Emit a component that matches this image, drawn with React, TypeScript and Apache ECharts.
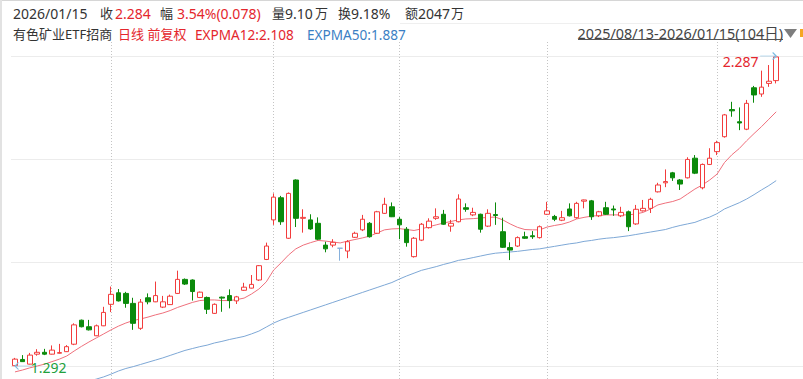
import React, { useEffect, useRef } from 'react';
import * as echarts from 'echarts';

const dates = [
  '2025-08-13','2025-08-14','2025-08-15','2025-08-18','2025-08-19','2025-08-20','2025-08-21','2025-08-22','2025-08-25','2025-08-26','2025-08-27','2025-08-28','2025-08-29',
  '2025-09-01','2025-09-02','2025-09-03','2025-09-04','2025-09-05','2025-09-08','2025-09-09','2025-09-10','2025-09-11','2025-09-12','2025-09-15','2025-09-16','2025-09-17','2025-09-18','2025-09-19','2025-09-22','2025-09-23','2025-09-24','2025-09-25','2025-09-26','2025-09-29','2025-09-30',
  '2025-10-09','2025-10-10','2025-10-13','2025-10-14','2025-10-15','2025-10-16','2025-10-17','2025-10-20','2025-10-21','2025-10-22','2025-10-23','2025-10-24','2025-10-27','2025-10-28','2025-10-29','2025-10-30','2025-10-31',
  '2025-11-03','2025-11-04','2025-11-05','2025-11-06','2025-11-07','2025-11-10','2025-11-11','2025-11-12','2025-11-13','2025-11-14','2025-11-17','2025-11-18','2025-11-19','2025-11-20','2025-11-21','2025-11-24','2025-11-25','2025-11-26','2025-11-27','2025-11-28',
  '2025-12-01','2025-12-02','2025-12-03','2025-12-04','2025-12-05','2025-12-08','2025-12-09','2025-12-10','2025-12-11','2025-12-12','2025-12-15','2025-12-16','2025-12-17','2025-12-18','2025-12-19','2025-12-22','2025-12-23','2025-12-24','2025-12-25','2025-12-26','2025-12-29','2025-12-30','2025-12-31',
  '2026-01-05','2026-01-06','2026-01-07','2026-01-08','2026-01-09','2026-01-12','2026-01-13','2026-01-14','2026-01-15',
];

const opens = [
  1.293,1.313,1.298,1.330,1.336,1.330,1.333,1.338,1.362,1.439,
  1.418,1.389,1.421,1.490,1.527,1.525,1.493,1.413,1.511,1.498,
  1.481,1.489,1.525,1.570,1.568,1.512,1.512,1.461,1.513,1.518,
  1.501,1.535,1.542,1.568,1.634,1.761,1.832,1.702,1.889,1.766,
  1.761,1.750,1.680,1.680,1.670,1.661,1.705,1.729,1.750,1.718,
  1.782,1.803,1.763,1.731,1.643,1.696,1.736,1.766,1.779,1.741,
  1.755,1.800,1.777,1.779,1.741,1.778,1.723,1.672,1.677,1.707,
  1.710,1.704,1.779,1.772,1.760,1.796,1.768,1.821,1.822,1.774,
  1.800,1.796,1.774,1.787,1.748,1.790,1.798,1.851,1.880,1.912,
  1.889,1.896,1.959,1.864,1.939,1.980,2.028,2.115,2.076,2.052,
  2.185,2.165,2.199,2.208,
];

const closes = [
  1.314,1.306,1.327,1.336,1.330,1.343,1.335,1.354,1.424,1.418,
  1.408,1.421,1.464,1.522,1.501,1.493,1.429,1.497,1.498,1.518,
  1.498,1.516,1.570,1.555,1.531,1.529,1.474,1.490,1.510,1.502,
  1.514,1.545,1.554,1.614,1.677,1.834,1.755,1.846,1.766,1.769,
  1.732,1.699,1.668,1.689,1.670,1.691,1.718,1.763,1.707,1.787,
  1.811,1.771,1.745,1.688,1.702,1.747,1.757,1.771,1.747,1.750,
  1.828,1.795,1.785,1.731,1.782,1.775,1.673,1.664,1.704,1.702,
  1.707,1.739,1.790,1.763,1.768,1.774,1.814,1.825,1.771,1.787,
  1.779,1.793,1.785,1.739,1.795,1.798,1.827,1.873,1.884,1.896,
  1.876,1.955,1.911,1.939,1.959,2.009,2.098,2.111,2.072,2.135,
  2.162,2.187,2.206,2.284,
];

const lows = [
  1.292,1.305,1.297,1.325,1.327,1.329,1.332,1.337,1.359,1.416,
  1.406,1.388,1.420,1.465,1.499,1.479,1.408,1.408,1.490,1.497,
  1.478,1.488,1.523,1.552,1.502,1.510,1.459,1.459,1.466,1.477,
  1.491,1.533,1.541,1.565,1.632,1.745,1.745,1.700,1.738,1.720,
  1.729,1.696,1.657,1.673,1.630,1.638,1.703,1.725,1.704,1.716,
  1.780,1.770,1.699,1.675,1.640,1.693,1.733,1.761,1.745,1.723,
  1.753,1.787,1.773,1.720,1.738,1.745,1.671,1.632,1.674,1.700,
  1.700,1.701,1.777,1.757,1.757,1.772,1.765,1.798,1.761,1.770,
  1.777,1.774,1.770,1.725,1.745,1.788,1.783,1.849,1.866,1.886,
  1.857,1.894,1.908,1.859,1.937,1.969,2.025,2.092,2.049,2.049,
  2.137,2.156,2.188,2.199,
];

const highs = [
  1.318,1.327,1.334,1.346,1.347,1.358,1.363,1.359,1.429,1.441,
  1.440,1.425,1.482,1.547,1.539,1.530,1.511,1.507,1.525,1.563,
  1.517,1.521,1.598,1.573,1.570,1.531,1.515,1.493,1.515,1.538,
  1.517,1.559,1.584,1.616,1.688,1.846,1.838,1.849,1.891,1.795,
  1.779,1.769,1.691,1.699,1.670,1.696,1.723,1.777,1.754,1.790,
  1.832,1.817,1.770,1.738,1.706,1.751,1.766,1.798,1.793,1.761,
  1.843,1.814,1.800,1.781,1.795,1.817,1.768,1.689,1.708,1.723,
  1.725,1.743,1.819,1.777,1.790,1.814,1.819,1.826,1.825,1.790,
  1.819,1.807,1.803,1.791,1.809,1.825,1.832,1.880,1.923,1.915,
  1.892,1.962,1.969,1.942,1.991,2.015,2.101,2.140,2.122,2.146,
  2.191,2.240,2.258,2.287,
];

const expma12 = [
  1.273,1.279,1.286,1.292,1.298,1.306,1.314,1.324,1.340,1.355,
  1.369,1.382,1.395,1.408,1.420,1.430,1.438,1.443,1.449,1.456,
  1.462,1.470,1.480,1.488,1.496,1.502,1.504,1.504,1.502,1.502,
  1.505,1.510,1.523,1.539,1.562,1.600,1.623,1.648,1.668,1.680,
  1.688,1.695,1.693,1.690,1.687,1.693,1.698,1.703,1.709,1.719,
  1.729,1.732,1.733,1.730,1.727,1.732,1.739,1.745,1.751,1.756,
  1.761,1.764,1.765,1.767,1.769,1.770,1.761,1.748,1.737,1.730,
  1.729,1.729,1.738,1.743,1.747,1.754,1.764,1.769,1.773,1.775,
  1.777,1.777,1.777,1.777,1.780,1.785,1.796,1.809,1.815,1.820,
  1.828,1.844,1.860,1.873,1.889,1.908,1.945,1.970,1.990,2.015,
  2.038,2.060,2.084,2.108,
];

const expma50 = [
  1.198,1.202,1.206,1.210,1.214,1.218,1.222,1.226,1.230,1.236,
  1.243,1.250,1.257,1.266,1.276,1.284,1.290,1.297,1.304,1.311,
  1.318,1.326,1.334,1.342,1.348,1.354,1.359,1.366,1.371,1.377,
  1.382,1.387,1.395,1.404,1.417,1.430,1.440,1.448,1.456,1.464,
  1.472,1.480,1.488,1.496,1.504,1.512,1.520,1.528,1.536,1.544,
  1.552,1.560,1.571,1.581,1.590,1.599,1.605,1.611,1.618,1.624,
  1.631,1.635,1.640,1.645,1.650,1.654,1.656,1.658,1.660,1.663,
  1.666,1.668,1.672,1.676,1.680,1.684,1.687,1.692,1.695,1.699,
  1.702,1.704,1.707,1.710,1.714,1.718,1.722,1.726,1.730,1.737,
  1.743,1.748,1.753,1.762,1.770,1.781,1.796,1.806,1.816,1.828,
  1.842,1.857,1.871,1.887,
];

const monthStarts = ['2025-09-01', '2025-10-09', '2025-11-03', '2025-12-01', '2026-01-05'];

const gridLinePrices = { min: 1.292, max: 2.287 };

const FONT = "'Noto Sans', 'Noto Sans CJK SC', sans-serif";
const RED = '#e4262d';
const UP = '#f23c3c';
const DOWN = '#0b8a0b';
const FLAT = '#86b0dc';

function txt(text: string, x: number, y: number, fill: string, size: number, align: string = 'left') {
  return {
    type: 'text',
    x,
    y,
    silent: true,
    style: {
      text,
      fill,
      font: `${size}px ${FONT}`,
      textVerticalAlign: 'middle',
      verticalAlign: 'middle',
      textAlign: align,
      align,
    },
  };
}

export default function App() {
  const ref = useRef<HTMLDivElement>(null);

  useEffect(() => {
    if (!ref.current) return;
    const chart = echarts.init(ref.current, undefined, { renderer: 'svg' });

    // price panel: 2.287 at y=56, 1.292 at y=366
    const pxPerUnit = 310 / (gridLinePrices.max - gridLinePrices.min);
    const yMax = gridLinePrices.max + 14 / pxPerUnit;
    const yMin = gridLinePrices.min - 13 / pxPerUnit;

    const candleData = dates.map((_, i) => {
      const v = [opens[i], closes[i], lows[i], highs[i]];
      if (opens[i] === closes[i]) {
        return { value: v, itemStyle: { color: FLAT, borderColor: FLAT, color0: FLAT, borderColor0: FLAT } };
      }
      return v;
    });

    const option: any = {
      animation: false,
      backgroundColor: '#ffffff',
      grid: [
        { left: 11.3, right: 23.1, top: 42, bottom: 0 },
        { left: 11, right: 0, top: 56, height: 310 },
      ],
      xAxis: [
        { type: 'category', data: dates, gridIndex: 0, boundaryGap: true, show: false },
        { type: 'value', gridIndex: 1, min: 0, max: 1, show: false },
      ],
      yAxis: [
        { type: 'value', gridIndex: 0, min: yMin, max: yMax, show: false },
        {
          type: 'value',
          gridIndex: 1,
          min: gridLinePrices.min,
          max: gridLinePrices.max,
          interval: (gridLinePrices.max - gridLinePrices.min) / 3,
          axisLine: { show: false },
          axisTick: { show: false },
          axisLabel: { show: false },
          splitLine: { show: true, lineStyle: { color: '#ececec', width: 1 } },
        },
      ],
      graphic: {
        elements: [
          { type: 'line', silent: true, shape: { x1: 0, y1: 0.5, x2: 803, y2: 0.5 }, style: { stroke: '#d6d6d6', lineWidth: 1 } },
          { type: 'line', silent: true, shape: { x1: 1, y1: 0, x2: 1, y2: 379 }, style: { stroke: '#e2e2e2', lineWidth: 2 } },
          { type: 'line', silent: true, shape: { x1: 400, y1: 23.5, x2: 803, y2: 23.5 }, style: { stroke: '#efefef', lineWidth: 1 } },
          txt('2026/01/15', 13, 13, '#333333', 14),
          txt('收', 100, 13, '#333333', 13),
          txt('2.284', 115, 13, RED, 14),
          txt('幅', 160, 13, '#333333', 13),
          txt('3.54%(0.078)', 177, 13, RED, 14),
          txt('量', 272, 13, '#333333', 13),
          txt('9.10', 285, 13, '#333333', 14),
          txt('万', 315, 13, '#333333', 13),
          txt('换', 338, 13, '#333333', 13),
          txt('9.18%', 351, 13, '#333333', 14),
          txt('额', 405, 13, '#333333', 13),
          txt('2047', 418, 13, '#333333', 14),
          txt('万', 451, 13, '#333333', 13),
          txt('有色矿业ETF招商', 13, 34, '#333333', 13),
          txt('日线 前复权', 118, 34, RED, 13),
          txt('EXPMA12:2.108', 195, 34, RED, 13.6),
          txt('EXPMA50:1.887', 307, 34, '#3b7fc4', 13.6),
          txt('2025/08/13-2026/01/15(104日)', 783, 33, '#444444', 14.4, 'right'),
          { type: 'line', silent: true, shape: { x1: 578, y1: 39.5, x2: 783, y2: 39.5 }, style: { stroke: '#555555', lineWidth: 1 } },
          { type: 'polygon', silent: true, shape: { points: [[784, 29], [797, 29], [790.5, 38]] }, style: { fill: '#7d7d7d' } },
          { type: 'rect', silent: true, shape: { x: 800, y: 29, width: 3, height: 8 }, style: { fill: '#f5a623' } },
        ],
      },
      series: [
        {
          name: 'EXPMA50',
          type: 'line',
          xAxisIndex: 0,
          yAxisIndex: 0,
          data: expma50,
          symbol: 'none',
          clip: true,
          lineStyle: { color: '#7ea8d6', width: 1 },
          z: 2,
        },
        {
          name: 'EXPMA12',
          type: 'line',
          xAxisIndex: 0,
          yAxisIndex: 0,
          data: expma12,
          symbol: 'none',
          clip: true,
          lineStyle: { color: '#ef707c', width: 1 },
          z: 2,
        },
        {
          name: 'K',
          type: 'candlestick',
          xAxisIndex: 0,
          yAxisIndex: 0,
          data: candleData,
          barWidth: 5,
          z: 3,
          itemStyle: {
            color: '#ffffff',
            borderColor: UP,
            color0: DOWN,
            borderColor0: DOWN,
            borderWidth: 1,
          },
          markLine: {
            silent: true,
            z: 1,
            symbol: ['none', 'none'],
            label: { show: false },
            lineStyle: { color: '#c4c4c4', type: [1, 2], width: 1 },
            data: monthStarts.map((d) => ({ xAxis: d })),
          },
          markPoint: {
            silent: true,
            data: [
              {
                type: 'max',
                valueDim: 'highest',
                symbol: 'path://M0,3.5L16,3.5M12.5,0L16,3.5L12.5,7',
                symbolSize: [16, 7],
                symbolOffset: [-8, 0],
                itemStyle: { color: 'rgba(0,0,0,0)', borderColor: '#7cbde2', borderWidth: 1 },
                label: {
                  show: true,
                  position: 'left',
                  distance: 1,
                  offset: [0, 5.5],
                  color: RED,
                  fontSize: 14,
                  fontFamily: FONT,
                  formatter: (p: any) => Number(p.value).toFixed(3),
                },
              },
              {
                type: 'min',
                valueDim: 'lowest',
                symbol: 'path://M17,3.5L0,3.5M3.5,0L0,3.5L3.5,7',
                symbolSize: [17, 7],
                symbolOffset: [8.5, 0],
                itemStyle: { color: 'rgba(0,0,0,0)', borderColor: '#7cbde2', borderWidth: 1 },
                label: {
                  show: true,
                  position: 'right',
                  distance: 0,
                  offset: [-2, 1],
                  color: '#22a03c',
                  fontSize: 14,
                  fontFamily: FONT,
                  formatter: (p: any) => Number(p.value).toFixed(3),
                },
              },
            ],
          },
        },
      ],
    };

    chart.setOption(option);
    return () => {
      chart.dispose();
    };
  }, []);

  return (
    <div
      ref={ref}
      style={{ position: 'fixed', left: 0, top: 0, width: 803, height: 379, background: '#fff' }}
    />
  );
}
